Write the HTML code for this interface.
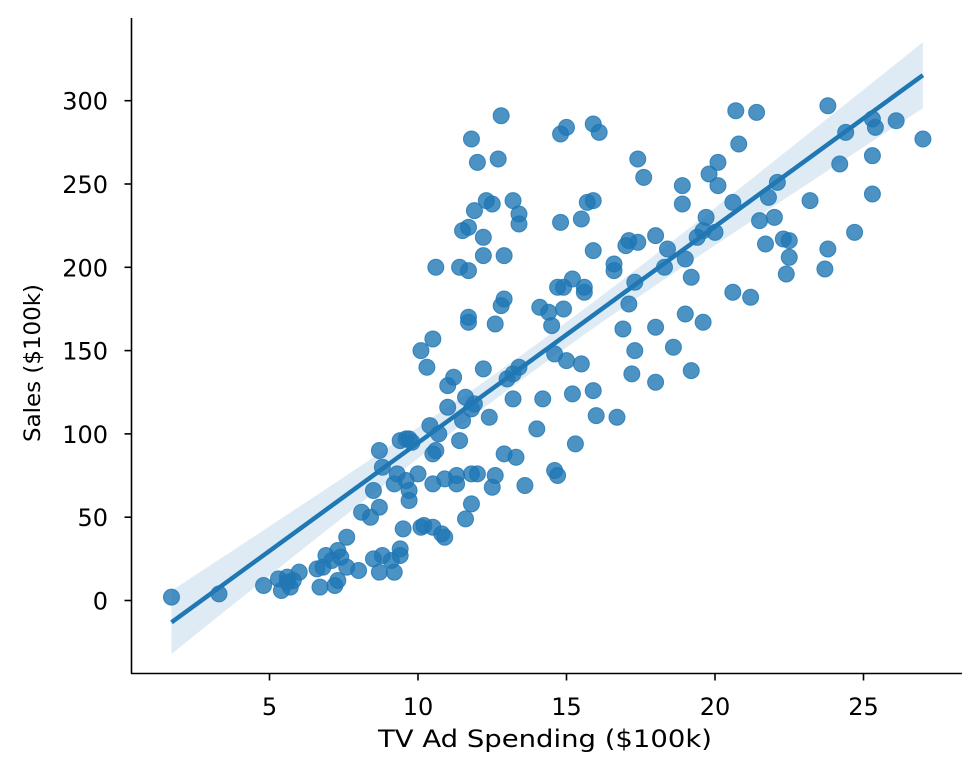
<!DOCTYPE html>
<html><head><meta charset="utf-8">
<style>
html,body{margin:0;padding:0;background:#fff;}
svg{display:block;font-family:"DejaVu Sans","Liberation Sans",sans-serif;}
</style></head>
<body>
<svg id="chart" width="980" height="780" viewBox="0 0 980 780" xmlns="http://www.w3.org/2000/svg">
<g id="band"></g>
<g id="points"></g>
<g id="line"></g>
<g id="axes"></g>
</svg>
<script>
const xTicks = [5, 10, 15, 20, 25];
const yTicks = [0, 50, 100, 150, 200, 250, 300];
const tvSpend = [1.7,3.3,4.8,5.3,5.4,5.6,5.7,5.6,5.8,6.0,6.6,6.7,6.8,6.9,7.1,7.2,7.3,7.3,7.4,7.6,7.6,8.0,8.1,8.4,8.5,8.5,8.7,8.7,8.8,8.7,8.8,9.1,9.2,9.2,9.3,9.4,9.4,9.4,9.5,9.6,9.6,9.7,9.7,9.7,9.8,10.0,10.1,10.1,10.2,10.3,10.4,10.5,10.5,10.5,10.5,10.6,10.6,10.7,10.8,10.9,10.9,11.0,11.0,11.2,11.3,11.3,11.4,11.4,11.5,11.5,11.6,11.6,11.7,11.7,11.7,11.7,11.8,11.8,11.8,11.8,11.9,11.9,12.0,12.0,12.2,12.2,12.2,12.3,12.4,12.5,12.5,12.6,12.6,12.7,12.8,12.8,12.9,12.9,12.9,13.0,13.2,13.2,13.2,13.3,13.4,13.4,13.4,13.6,14.0,14.1,14.2,14.4,14.5,14.6,14.6,14.7,14.7,14.8,14.8,14.9,14.9,15.0,15.0,15.2,15.2,15.3,15.5,15.5,15.6,15.6,15.7,15.9,15.9,15.9,15.9,16.0,16.1,16.7,16.6,16.6,16.9,17.0,17.1,17.1,17.2,17.3,17.3,17.4,17.4,17.6,18.0,18.0,18.0,18.3,18.4,18.6,18.9,18.9,19.0,19.0,19.2,19.2,19.4,19.6,19.6,19.7,19.8,20.0,20.1,20.1,20.6,20.6,20.7,20.8,21.2,21.4,21.5,21.7,21.8,22.0,22.1,22.3,22.4,22.5,22.5,23.2,23.7,23.8,23.8,24.2,24.4,24.7,25.3,25.3,25.3,25.4,26.1,27.0];
const sales = [2,4,9,13,6,11,8,14,12,17,19,8,20,27,24,9,12,30,26,20,38,18,53,50,25,66,56,17,27,90,80,24,17,70,76,27,31,96,43,97,72,66,60,97,95,76,44,150,45,140,105,157,70,44,88,90,200,100,40,38,73,116,129,134,70,75,200,96,222,108,49,122,224,170,167,198,277,115,58,76,118,234,263,76,218,207,139,240,110,238,68,75,166,265,291,177,181,88,207,133,240,136,121,86,232,226,140,69,103,176,121,173,165,148,78,75,188,280,227,188,175,284,144,193,124,94,229,142,185,188,239,286,240,210,126,111,281,110,198,202,163,213,178,216,136,191,150,265,215,254,219,164,131,200,211,152,249,238,205,172,194,138,218,167,222,230,256,221,249,263,239,185,294,274,182,293,228,214,242,230,251,217,196,216,206,240,199,297,211,262,281,221,289,267,244,284,288,277];

const NS = "http://www.w3.org/2000/svg";
const X0 = 121, XS = 29.7, Y0 = 600.5, YS = 1.666;
const sx = v => X0 + v * XS;
const sy = v => Y0 - v * YS;
function mk(tag, attrs, parent) {
  const e = document.createElementNS(NS, tag);
  for (const k in attrs) e.setAttribute(k, attrs[k]);
  parent.appendChild(e);
  return e;
}
const n = tvSpend.length;
let mx = 0, my = 0;
for (let i = 0; i < n; i++) { mx += tvSpend[i]; my += sales[i]; }
mx /= n; my /= n;
let sxx = 0, sxy = 0;
for (let i = 0; i < n; i++) { sxx += (tvSpend[i]-mx)**2; sxy += (tvSpend[i]-mx)*(sales[i]-my); }
const b = sxy / sxx, a = my - b * mx;
let sse = 0;
for (let i = 0; i < n; i++) sse += (sales[i] - a - b*tvSpend[i])**2;
const s = Math.sqrt(sse / (n - 2));
const xmin = Math.min(...tvSpend), xmax = Math.max(...tvSpend);
const up = [], lo = [];
for (let k = 0; k <= 60; k++) {
  const x = xmin + (xmax - xmin) * k / 60;
  const se = s * Math.sqrt(1/n + (x-mx)**2/sxx) * 1.97;
  up.push(sx(x).toFixed(1) + "," + sy(a + b*x + se).toFixed(1));
  lo.unshift(sx(x).toFixed(1) + "," + sy(a + b*x - se).toFixed(1));
}
const band = document.getElementById('band');
const bp = mk('polygon', {points: up.concat(lo).join(' '), fill: '#1f77b4', 'fill-opacity': 0.15}, band);



const pts = document.getElementById('points');
for (let i = 0; i < n; i++) {
  const c = mk('circle', {cx: sx(tvSpend[i]), cy: sy(sales[i]), r: 8, fill: '#1f77b4', 'fill-opacity': 0.8, stroke: '#1f77b4', 'stroke-opacity': 0.8, 'stroke-width': 1}, pts);
  
  
}
const ln = mk('line', {x1: sx(xmin), y1: sy(a + b*xmin), x2: sx(xmax), y2: sy(a + b*xmax), stroke: '#1f77b4', 'stroke-width': 4.5}, document.getElementById('line'));



const ax = document.getElementById('axes');
const left = mk('line', {x1: 131.5, y1: 18, x2: 131.5, y2: 673.5, stroke: '#000', 'stroke-width': 1.6}, ax);


const bot = mk('line', {x1: 131, y1: 673.5, x2: 962, y2: 673.5, stroke: '#000', 'stroke-width': 1.6}, ax);


xTicks.forEach(t => {
  mk('line', {x1: sx(t), y1: 673.5, x2: sx(t), y2: 680.5, stroke: '#000', 'stroke-width': 1.6}, ax);
  const tx = mk('text', {x: sx(t), y: 715, 'text-anchor': 'middle', 'font-size': 24, fill: '#000'}, ax);
  tx.textContent = t;
  
  
});
yTicks.forEach(t => {
  mk('line', {x1: 124.5, y1: sy(t), x2: 131.5, y2: sy(t), stroke: '#000', 'stroke-width': 1.6}, ax);
  const tx = mk('text', {x: 108, y: sy(t) + 9, 'text-anchor': 'end', 'font-size': 24, fill: '#000'}, ax);
  tx.textContent = t;
  
  
});
const xl = mk('text', {x: 545, y: 747, 'text-anchor': 'middle', 'font-size': 24, fill: '#000', textLength: 334, lengthAdjust: 'spacingAndGlyphs'}, ax);
xl.textContent = 'TV Ad Spending ($100k)';


const yl = mk('text', {x: 0, y: 0, 'text-anchor': 'middle', 'font-size': 22, fill: '#000', textLength: 158, lengthAdjust: 'spacingAndGlyphs', transform: 'translate(40,363) rotate(-90)'}, ax);
yl.textContent = 'Sales ($100k)';


</script>
</body></html>
